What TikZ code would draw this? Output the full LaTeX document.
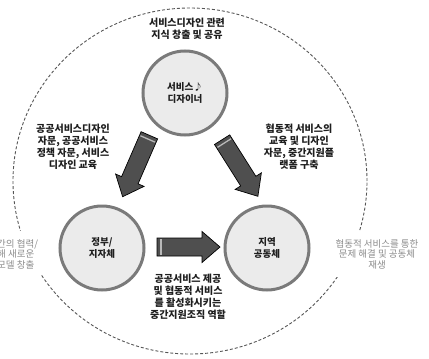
\documentclass[tikz,border=0pt]{standalone}
\usepackage{fontspec}
\setmainfont{Noto Sans CJK KR}
\usetikzlibrary{calc}
\definecolor{ringgray}{HTML}{7A7A7A}
\definecolor{circfill}{HTML}{EBEBEB}
\definecolor{arrowfill}{HTML}{4F4F4F}
\definecolor{darktext}{HTML}{1E1E1E}
\definecolor{graytext}{HTML}{8C8C8C}
\definecolor{dashgray}{HTML}{555555}
\begin{document}
\begin{tikzpicture}[x=1pt,y=1pt,
 actor/.style={circle, draw=ringgray, line width=3pt, fill=circfill, minimum size=84pt, inner sep=0pt, align=center, font=\fontsize{9.5}{12.5}\selectfont\bfseries, text=darktext},
 note/.style={align=center, font=\fontsize{10}{12}\selectfont\bfseries, text=darktext, inner sep=1pt},
 outnote/.style={align=center, font=\fontsize{9.5}{10.5}\selectfont, text=graytext, fill=white, inner xsep=3pt, inner ysep=8pt},
 blockarrow/.style={draw=black, fill=arrowfill, line width=0.7pt, line join=miter},
 tailband/.style={draw=gray!55, line width=1.3pt}]
\useasboundingbox (0,0) rectangle (429,-359);
\clip (0,0) rectangle (429,-359);

% outer dashed boundary
\draw[dashgray, line width=0.9pt, dash pattern=on 3pt off 2pt] (190,-181) ellipse [x radius=177, y radius=173];

% outside notes (break the dashed line)
\node[outnote, anchor=west, align=left] (outL) at (-6,-254) {간의 협력/\\해 새로운\\모델 창출};
\node[outnote] (outR) at (377,-254) {협동적 서비스를 통한\\문제 해결 및 공동체\\재생};

% actors
\node[actor] (designer) at (185,-93) {서비스♪\\디자이너};
\node[actor] (gov) at (102,-248) {정부/\\지자체};
\node[actor] (comm) at (267,-248) {지역\\공동체};

% block arrows (tail at x=-L/2, tip at x=+L/2 in local coordinates)
\begin{scope}[shift={(136,-166)}, rotate=246.5]
 \draw[blockarrow] (-33.5,-9) -- (15.5,-9) -- (15.5,-15.5) -- (33.5,0) -- (15.5,15.5) -- (15.5,9) -- (-33.5,9) -- cycle;
 \draw[tailband] (-29.5,-8) -- (-29.5,8);
\end{scope}
\begin{scope}[shift={(240,-168)}, rotate=-57.7]
 \draw[blockarrow] (-33.5,-9) -- (15.5,-9) -- (15.5,-15.5) -- (33.5,0) -- (15.5,15.5) -- (15.5,9) -- (-33.5,9) -- cycle;
 \draw[tailband] (-29.5,-8) -- (-29.5,8);
\end{scope}
\begin{scope}[shift={(188.5,-247)}]
 \draw[blockarrow] (-31.5,-9) -- (13.5,-9) -- (13.5,-15.5) -- (31.5,0) -- (13.5,15.5) -- (13.5,9) -- (-31.5,9) -- cycle;
 \draw[tailband] (-27.5,-8) -- (-27.5,8);
\end{scope}

% notes
\node[note] (top) at (187,-29) {서비스디자인 관련\\지식 창출 및 공유};
\node[note] (left) at (73,-147) {공공서비스디자인\\자문, 공공서비스\\정책 자문, 서비스\\디자인 교육};
\node[note] (right) at (299,-147) {협동적 서비스의\\교육 및 디자인\\자문, 중간지원플\\랫폼 구축};
\node[note] (bottom) at (188,-297) {공공서비스 제공\\및 협동적 서비스\\를 활성화시키는\\중간지원조직 역할};
\end{tikzpicture}
\end{document}
